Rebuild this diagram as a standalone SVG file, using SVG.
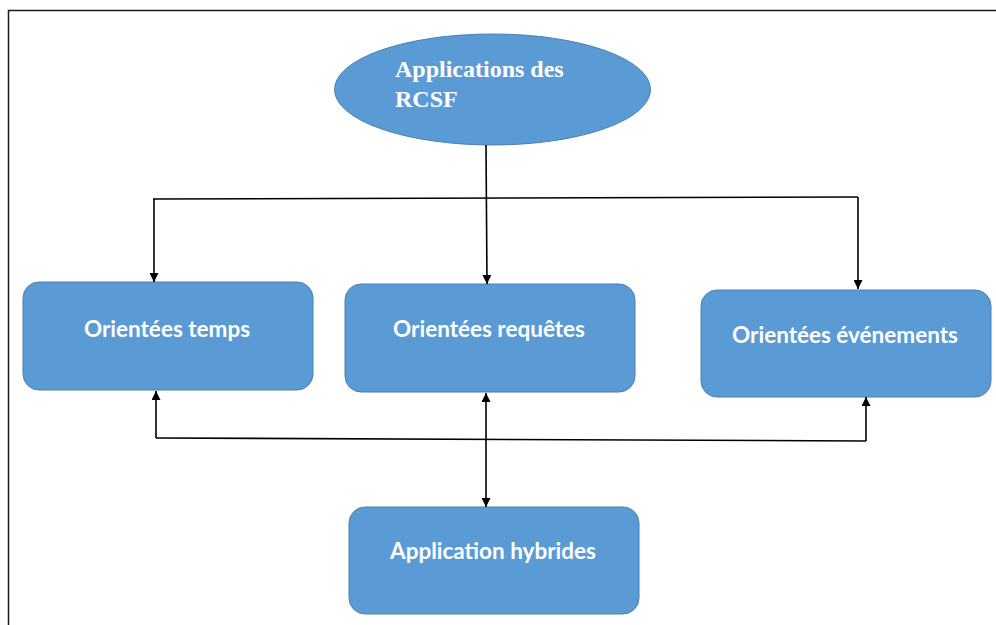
<svg xmlns="http://www.w3.org/2000/svg" width="996" height="625" viewBox="0 0 996 625">
<style>
.node{fill:#5B9BD5;stroke:#4A7FB0;stroke-width:1}
.lbl{font-family:Lato,"Open Sans",sans-serif;font-weight:bold;font-size:22.5px;fill:#fff;text-anchor:middle}
.ttl{font-family:"Liberation Serif",serif;font-weight:bold;font-size:24px;fill:#fff}
.c{fill:none;stroke:#000;stroke-width:1.6}
.b{fill:none;stroke:#1a1a1a;stroke-width:1.5}
</style>
<defs>
<marker id="ah" viewBox="0 0 10 10" refX="10" refY="5" markerWidth="9" markerHeight="9" markerUnits="userSpaceOnUse" orient="auto-start-reverse">
<path d="M0,0 L10,5 L0,10 z" fill="#000"/>
</marker>
</defs>
<rect width="996" height="625" fill="#fff"/>
<g id="frame">
<path class="b" d="M8.5,625 V10.5 H996"/>
</g>
<g id="root">
<ellipse class="node" cx="492.5" cy="89.5" rx="158" ry="55.5"/>
<text class="ttl" x="395" y="77">Applications des</text>
<text class="ttl" x="395" y="107">RCSF</text>
</g>
<g id="temps">
<rect class="node" x="23" y="282" width="290" height="108" rx="16"/>
<text class="lbl" x="167" y="337">Orientées temps</text>
</g>
<g id="requetes">
<rect class="node" x="345" y="284" width="290" height="108" rx="16"/>
<text class="lbl" x="489" y="337">Orientées requêtes</text>
</g>
<g id="evenements">
<rect class="node" x="701" y="290" width="290" height="107" rx="16"/>
<text class="lbl" x="845" y="343">Orientées événements</text>
</g>
<g id="hybrides">
<rect class="node" x="349" y="507" width="290" height="107" rx="16"/>
<text class="lbl" x="493" y="559">Application hybrides</text>
</g>
<g id="connectors">
<path class="c" d="M486,145 L487,284" marker-end="url(#ah)"/>
<path class="c" d="M153,199 L858,197"/>
<path class="c" d="M154,199 V282" marker-end="url(#ah)"/>
<path class="c" d="M858,197 V289" marker-end="url(#ah)"/>
<path class="c" d="M156,438 L866,441"/>
<path class="c" d="M156,438 V391" marker-end="url(#ah)"/>
<path class="c" d="M866,441 V397" marker-end="url(#ah)"/>
<path class="c" d="M486,393 V507" marker-start="url(#ah)" marker-end="url(#ah)"/>
</g>
</svg>
